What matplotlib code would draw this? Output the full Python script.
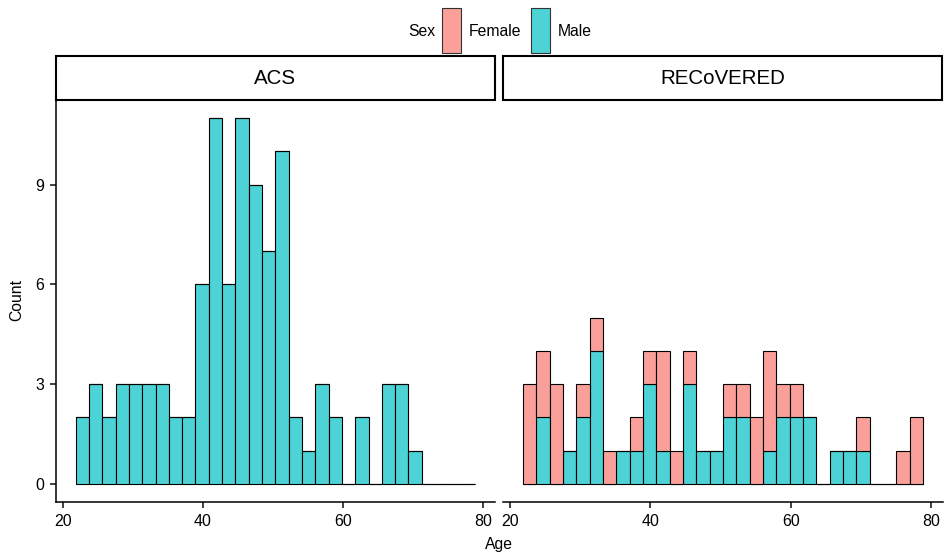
import numpy as np
import matplotlib.pyplot as plt
from matplotlib.patches import Rectangle

plt.rcParams['font.family'] = ['Liberation Sans', 'DejaVu Sans']

# Histogram bins (30 bins, shared by both panels)
bin_start = 21.86
bin_width = 1.90

# ACS cohort: all male
acs_male = [2, 3, 2, 3, 3, 3, 3, 2, 2, 6, 11, 6, 11, 9, 7, 10, 2, 1, 3, 2,
            0, 2, 0, 3, 3, 1, 0, 0, 0, 0]
acs_female = [0] * 30

# RECoVERED cohort
rec_male = [0, 2, 0, 1, 2, 4, 0, 1, 1, 3, 1, 0, 3, 1, 1, 2, 2, 0, 1, 2,
            2, 2, 0, 1, 1, 1, 0, 0, 0, 0]
rec_female = [3, 2, 3, 0, 1, 1, 1, 0, 1, 1, 3, 1, 1, 0, 0, 1, 1, 2, 3, 1,
              1, 0, 0, 0, 0, 1, 0, 0, 1, 2]

panels = ['ACS', 'RECoVERED']
female_col = '#FA9F99'
male_col = '#4DD2D6'

W, H = 944, 559
fig = plt.figure(figsize=(W / 100, H / 100), dpi=100)

def fx(px):
    return px / W

def fy(py):
    return 1 - py / H

ax_l = fig.add_axes([fx(55.7), fy(502), fx(495) - fx(55.7), fy(100) - fy(502)])
ax_r = fig.add_axes([fx(503), fy(502), fx(943) - fx(503), fy(100) - fy(502)])

edges = bin_start + bin_width * np.arange(30)
for ax, male, female, name, strip_x in [
        (ax_l, acs_male, acs_female, panels[0], (56, 495)),
        (ax_r, rec_male, rec_female, panels[1], (503, 942))]:
    male = np.array(male)
    female = np.array(female)
    ax.bar(edges, male, width=bin_width, align='edge', color=male_col,
           edgecolor='black', linewidth=0.8)
    ax.bar(edges, female, width=bin_width, bottom=male, align='edge',
           color=female_col, edgecolor='black', linewidth=0.8)

    lo, hi = bin_start, bin_start + 30 * bin_width
    pad = (hi - lo) * 0.05
    ax.set_xlim(lo - pad, hi + pad)
    ax.set_ylim(-0.55, 11.55)
    ax.set_xticks([20, 40, 60, 80])
    ax.set_yticks([0, 3, 6, 9])
    for s in ['top', 'right']:
        ax.spines[s].set_visible(False)
    ax.spines['bottom'].set_linewidth(1.1)
    ax.spines['left'].set_linewidth(1.1)
    ax.tick_params(axis='both', length=4.5, width=1.3, color='#333333',
                   labelsize=11.5, labelcolor='black', pad=4)

    # facet strip
    sx0, sx1 = strip_x
    fig.patches.append(Rectangle((fx(sx0), fy(100)), fx(sx1) - fx(sx0),
                                 fy(56) - fy(100), transform=fig.transFigure,
                                 facecolor='white', edgecolor='black',
                                 linewidth=1.5))
    fig.text((fx(sx0) + fx(sx1)) / 2, (fy(56) + fy(100)) / 2, name,
             ha='center', va='center', fontsize=14.8)

ax_r.spines['left'].set_visible(False)
ax_r.tick_params(axis='y', left=False, labelleft=False)

fig.text(fx(499), fy(544), 'Age', ha='center', va='center', fontsize=11.3)
fig.text(fx(17), fy(300), 'Count', ha='center', va='center', fontsize=11.3,
         rotation=90)

# legend on top
fig.text(fx(435), fy(31), 'Sex', ha='right', va='center', fontsize=11.3)
for x0, col, lab in [(442, female_col, 'Female'), (531, male_col, 'Male')]:
    fig.patches.append(Rectangle((fx(x0), fy(53)), fx(18.5), fy(8) - fy(53),
                                 transform=fig.transFigure, facecolor=col,
                                 edgecolor='#333333', linewidth=0.8))
    fig.text(fx(x0 + 27), fy(31), lab, ha='left', va='center', fontsize=11.3)

fig.savefig('out.png', dpi=100)
